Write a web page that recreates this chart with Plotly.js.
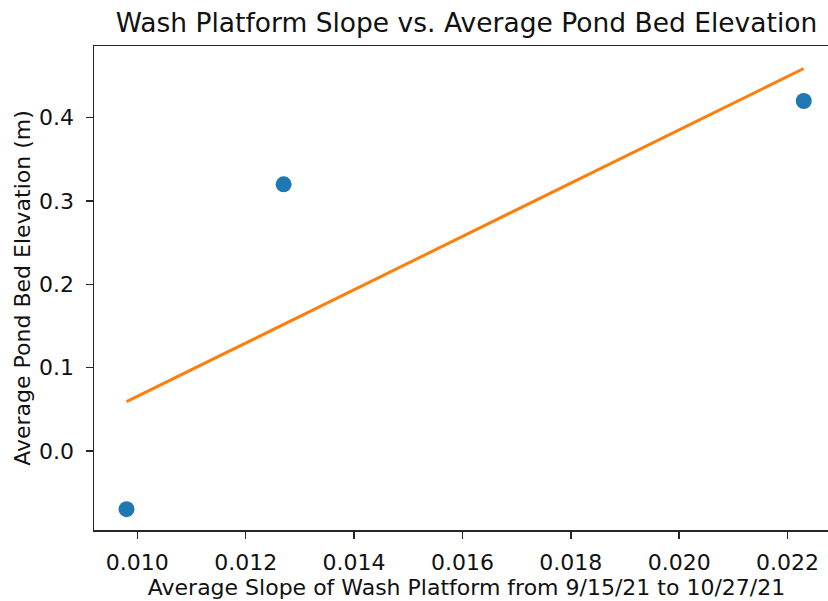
<!DOCTYPE html>
<html>
<head>
<meta charset="utf-8">
<script src="https://cdn.plot.ly/plotly-3.0.1.min.js"></script>
<style>
html, body { margin: 0; padding: 0; overflow: hidden; background: #fff; }
#chart { width: 845px; height: 601px; }
</style>
</head>
<body>
<div id="chart"></div>
<script>
// Data
const slopeX = [0.0098, 0.0127, 0.0223];
const elevationY = [-0.07, 0.32, 0.42];
// Fitted line endpoints
const fitX = [0.0098, 0.0223];
const fitY = [0.059, 0.459];
const xTickVals = [0.010, 0.012, 0.014, 0.016, 0.018, 0.020, 0.022];
const xTickText = ["0.010", "0.012", "0.014", "0.016", "0.018", "0.020", "0.022"];
const yTickVals = [0.0, 0.1, 0.2, 0.3, 0.4];
const yTickText = ["0.0", "0.1", "0.2", "0.3", "0.4"];

const FONT = "DejaVu Sans, sans-serif";
const traces = [
  {
    x: slopeX, y: elevationY, type: "scatter", mode: "markers",
    marker: { color: "#1f77b4", size: 16 },
    cliponaxis: false, hoverinfo: "skip"
  },
  {
    x: fitX, y: fitY, type: "scatter", mode: "lines",
    line: { color: "#ff7f0e", width: 3 },
    hoverinfo: "skip"
  }
];

const axisCommon = {
  showline: true, linecolor: "#262626", linewidth: 1.5,
  ticks: "outside", ticklen: 7, tickwidth: 1.5, tickcolor: "#262626",
  showgrid: false, zeroline: false,
  tickfont: { family: FONT, size: 22, color: "#111" }
};

const layout = {
  width: 845, height: 601,
  margin: { l: 94, r: 6, t: 46, b: 71 },
  paper_bgcolor: "#fff", plot_bgcolor: "#fff",
  showlegend: false,
  title: {
    text: "Wash Platform Slope vs. Average Pond Bed Elevation",
    font: { family: FONT, size: 26.5, color: "#111" },
    x: 0.5, xref: "paper", xanchor: "center",
    y: 1 - 23 / 601, yref: "container", yanchor: "middle"
  },
  xaxis: Object.assign({}, axisCommon, {
    mirror: true,
    range: [0.0092, 0.02295],
    tickvals: xTickVals, ticktext: xTickText,
    ticklabelstandoff: 5,
    title: { text: "Average Slope of Wash Platform from 9/15/21 to 10/27/21",
             font: { family: FONT, size: 22, color: "#111" }, standoff: 1 }
  }),
  yaxis: Object.assign({}, axisCommon, {
    mirror: false,
    range: [-0.095, 0.486],
    tickvals: yTickVals, ticktext: yTickText,
    ticklabelstandoff: 7,
    title: { text: "Average Pond Bed Elevation (m)",
             font: { family: FONT, size: 22, color: "#111" }, standoff: 2 }
  })
};

Plotly.newPlot("chart", traces, layout, { staticPlot: true, responsive: false, displayModeBar: false });
</script>
</body>
</html>
